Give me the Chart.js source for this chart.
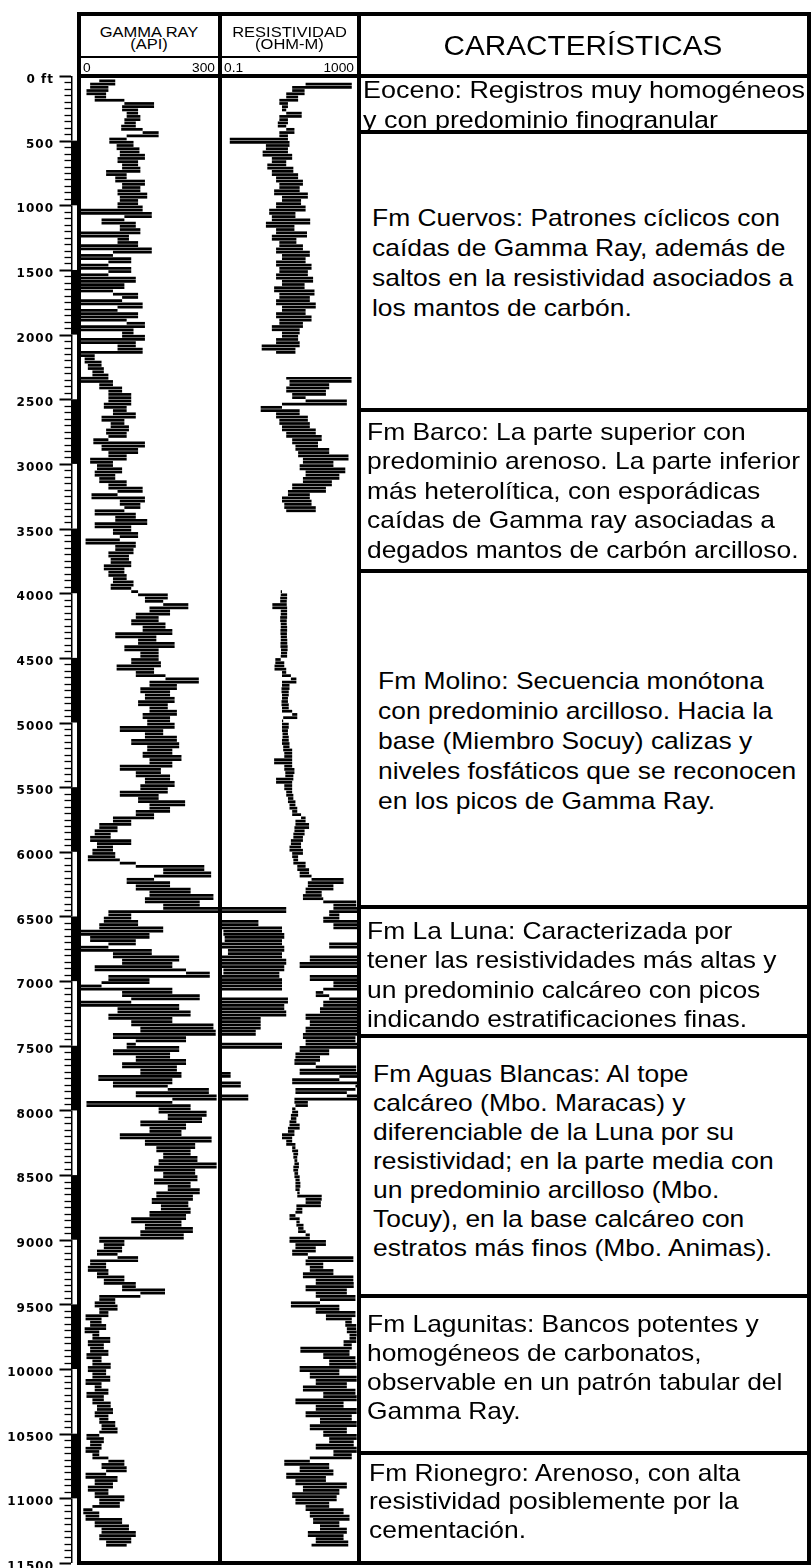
<!DOCTYPE html>
<html lang="es">
<head>
<meta charset="utf-8">
<title>Registros GR y Resistividad</title>
<script src="https://cdn.jsdelivr.net/npm/chart.js@4.4.1/dist/chart.umd.min.js"></script>
<style>
  html, body { margin: 0; padding: 0; background: #fff; }
  #sheet { position: relative; width: 811px; height: 1568px; overflow: hidden; background: #fff;
           font-family: "Liberation Sans", Arial, sans-serif; color: #000; }
  .ln { position: absolute; background: #000; }
  .cv { position: absolute; display: block; }
  .c { position: absolute; white-space: nowrap; text-align: center; transform: scaleX(1.1); transform-origin: 50% 0; }
  .l { position: absolute; white-space: nowrap; transform: scaleX(1.1); transform-origin: 0 0; }
  .r { position: absolute; white-space: nowrap; text-align: right; transform: scaleX(1.1); transform-origin: 100% 0; }
  .box { position: absolute; white-space: nowrap; font-size: 24px; transform: scaleX(1.1); transform-origin: 0 0; }
</style>
</head>
<body>
<div id="sheet">
  <canvas id="gammaTrack" class="cv" width="218" height="1502" style="left:0;top:66px"></canvas>
  <canvas id="resTrack" class="cv" width="135" height="1502" style="left:222px;top:66px"></canvas>

  <!-- frame -->
  <div class="ln" style="left:77px;top:12px;width:734px;height:3.5px"></div>
  <div class="ln" style="left:77px;top:74px;width:734px;height:4px"></div>
  <div class="ln" style="left:81px;top:56px;width:276px;height:1.5px"></div>
  <div class="ln" style="left:77px;top:1561px;width:734px;height:4px"></div>
  <div class="ln" style="left:77px;top:12px;width:4px;height:1553px"></div>
  <div class="ln" style="left:218px;top:12px;width:4px;height:1553px"></div>
  <div class="ln" style="left:357px;top:12px;width:4px;height:1553px"></div>
  <div class="ln" style="left:807px;top:12px;width:4px;height:1553px"></div>
  <!-- formation box separators -->
  <div class="ln" style="left:357px;top:130px;width:454px;height:4px"></div>
  <div class="ln" style="left:357px;top:408px;width:454px;height:4px"></div>
  <div class="ln" style="left:357px;top:569px;width:454px;height:4px"></div>
  <div class="ln" style="left:357px;top:905px;width:454px;height:4px"></div>
  <div class="ln" style="left:357px;top:1034px;width:454px;height:4px"></div>
  <div class="ln" style="left:357px;top:1294px;width:454px;height:4px"></div>
  <div class="ln" style="left:357px;top:1451px;width:454px;height:4px"></div>

  <!-- track headers -->
  <div class="c" style="left:89px;width:120px;top:23.5px;font-size:15px;line-height:15px">GAMMA RAY</div>
  <div class="c" style="left:89px;width:120px;top:36px;font-size:15px;line-height:15px">(API)</div>
  <div class="c" style="left:224px;width:131px;top:23.5px;font-size:15px;line-height:15px">RESISTIVIDAD</div>
  <div class="c" style="left:224px;width:131px;top:36px;font-size:15px;line-height:15px">(OHM-M)</div>
  <div class="l" style="left:83px;top:61.5px;font-size:12.5px;line-height:12.5px">0</div>
  <div class="r" style="left:160px;width:55px;top:61.5px;font-size:12.5px;line-height:12.5px">300</div>
  <div class="l" style="left:224px;top:61.5px;font-size:12.5px;line-height:12.5px">0.1</div>
  <div class="r" style="left:300px;width:54px;top:61.5px;font-size:12.5px;line-height:12.5px">1000</div>
  <div class="c" style="left:383px;width:400px;top:32.5px;font-size:27px;line-height:27px">CARACTERÍSTICAS</div>

  <!-- formation descriptions -->
  <div class="box" style="left:363px;top:74.5px;line-height:30.5px;font-size:24.5px">Eoceno: Registros muy homogéneos<br>y con predominio finogranular</div>
  <div class="box" style="left:372px;top:202.5px;line-height:30px">Fm Cuervos: Patrones cíclicos con<br>caídas de Gamma Ray, además de<br>saltos en la resistividad asociados a<br>los mantos de carbón.</div>
  <div class="box" style="left:367px;top:416.5px;line-height:29.5px">Fm Barco: La parte superior con<br>predominio arenoso. La parte inferior<br>más heterolítica, con esporádicas<br>caídas de Gamma ray asociadas a<br>degados mantos de carbón arcilloso.</div>
  <div class="box" style="left:378px;top:665.5px;line-height:30px">Fm Molino: Secuencia monótona<br>con predominio arcilloso. Hacia la<br>base (Miembro Socuy) calizas y<br>niveles fosfáticos que se reconocen<br>en los picos de Gamma Ray.</div>
  <div class="box" style="left:367px;top:915.5px;line-height:29.5px">Fm La Luna: Caracterizada por<br>tener las resistividades más altas y<br>un predominio calcáreo con picos<br>indicando estratificaciones finas.</div>
  <div class="box" style="left:373px;top:1058.5px;line-height:29px">Fm Aguas Blancas: Al tope<br>calcáreo (Mbo. Maracas) y<br>diferenciable de la Luna por su<br>resistividad; en la parte media con<br>un predominio arcilloso (Mbo.<br>Tocuy), en la base calcáreo con<br>estratos más finos (Mbo. Animas).</div>
  <div class="box" style="left:367px;top:1308.5px;line-height:29.3px">Fm Lagunitas: Bancos potentes y<br>homogéneos de carbonatos,<br>observable en un patrón tabular del<br>Gamma Ray.</div>
  <div class="box" style="left:369px;top:1458.5px;line-height:28.5px">Fm Rionegro: Arenoso, con alta<br>resistividad posiblemente por la<br>cementación.</div>
</div>

<script>
// Sampling interval of both curves, in feet
const DEPTH_STEP_FT = 25;
const DEPTH_MAX_FT = 11500;

// Labelled depth ticks
const DEPTH_TICKS = [0, 500, 1000, 1500, 2000, 2500, 3000, 3500, 4000, 4500, 5000, 5500,
  6000, 6500, 7000, 7500, 8000, 8500, 9000, 9500, 10000, 10500, 11000, 11500];

// Gamma Ray (API), one row per 500 ft, samples every 25 ft
const GAMMA_API = [
  null, 40, 75, 20, 60, 12, 55, 30, 95, 160, 90, 125, 100, 130, 95, 120, 88, 135, 170, 100,   // 0
  62, 115, 78, 128, 85, 140, 80, 125, 90, 130, 55, 100, 75, 140, 90, 130, 80, 145, 85, 125,   // 500
  80, 135, 0, 155, 95, 45, 120, 85, 130, 0, 105, 80, 125, 0, 155, 70, 0, 110, 60, 0,          // 1000
  110, 60, 0, 120, 0, 95, 0, 70, 125, 90, 0, 135, 80, 0, 125, 0, 100, 140, 0, 115,            // 1500
  90, 140, 0, 120, 80, 135, 0, 30, 8, 45, 15, 50, 25, 60, 0, 70, 40, 90, 60, 110,             // 2000
  60, 110, 50, 100, 70, 120, 45, 95, 65, 105, 55, 100, 60, 27, 140, 45, 125, 60, 100, 20,     // 2500
  70, 35, 90, 30, 75, 40, 100, 60, 135, 80, 23, 140, 85, 130, 95, 30, 120, 75, 145, 30,       // 3000
  110, 70, 125, 85, 10, 120, 75, 115, 60, 105, 65, 110, 50, 95, 60, 100, 70, 115, 65, 110,    // 3500
  125, 190, 140, 180, 235, 150, 195, 120, 170, 110, 185, 135, 200, 75, 165, 125, 205, 95, 170, 130, // 4000
  170, 110, 175, 78, 160, 120, 185, 258, 150, 210, 130, 195, 140, 205, 125, 190, 150, 210, 135, 195, // 4500
  145, 205, 85, 180, 140, 210, 110, 215, 145, 200, 135, 220, 150, 200, 85, 175, 120, 195, 140, 205,  // 5000
  130, 190, 85, 170, 125, 228, 150, 195, 120, 160, 70, 110, 40, 80, 30, 65, 20, 110, 35, 70,  // 5500
  25, 75, 15, 85, 120, 270, 180, 285, 160, 100, 195, 120, 240, 150, 290, 140, 260, 180, 300, 60, // 6000
  110, 50, 125, 40, 180, 0, 150, 20, 120, 60, 0, 155, 70, 215, 90, 200, 30, 230, 282, 60,     // 6500
  150, 45, 0, 200, 90, 260, 110, 0, 215, 80, 240, 60, 200, 110, 290, 130, 295, 70, 230, 120,  // 7000
  100, 215, 70, 195, 120, 230, 90, 210, 130, 220, 38, 200, 70, 190, 280, 120, 297, 200, 12, 240, // 7500
  170, 275, 190, 265, 130, 230, 150, 220, 85, 286, 140, 250, 165, 240, 180, 255, 170, 297, 160, 250, // 8000
  180, 255, 160, 240, 190, 260, 165, 245, 155, 235, 175, 240, 150, 230, 110, 220, 140, 245, 130, 225, // 8500
  40, 95, 50, 90, 35, 80, 125, 20, 55, 15, 60, 35, 95, 50, 120, 90, 184, 130, 40, 75,         // 9000
  30, 80, 40, 60, 10, 45, 20, 55, 8, 40, 25, 64, 15, 50, 20, 60, 12, 45, 25, 65,              // 9500
  15, 55, 25, 64, 10, 45, 30, 60, 12, 50, 25, 65, 35, 70, 30, 60, 40, 75, 45, 80,             // 10000
  40, 12, 50, 20, 45, 10, 40, 25, 60, 95, 45, 100, 55, 10, 80, 30, 70, 15, 60, 30,            // 10500
  95, 40, 85, 25, 5, 40, 10, 90, 30, 105, 45, 120, 40, 110, 55, 100, null, null, null, null,  // 11000
  null                                                                                         // 11500
];

// Resistivity (ohm-m), same sampling; values above the track maximum wrap onto the backup scale
const RES_OHMM = [
  null, null, 30, 700, 12, 28, 8, 18, 5, 9, 6, 8, 23, 5, 9, 4.5, 8, 14, 5, 9,                  // 0
  0.17, 10, 2, 9, 1.6, 12, 3, 8, 2.2, 13, 3, 18, 4, 25, 5, 20, 3.5, 35, 6, 22,                 // 500
  4, 30, 2.5, 15, 3, 41, 2, 14, 4, 33, 3, 16, 5, 25, 4, 40, 6, 30, 4, 45,                      // 1000
  5, 35, 4, 50, 6, 28, 3.5, 55, 5, 40, 4, 60, 6, 30, 4, 45, 5, 25, 3, 20,                      // 1500
  6, 18, 4, 20, 1.5, 15, 4, null, null, null, null, null, null, 8, 690, 10, 150, 8, 120, 12,   // 2000
  30, 500, 6, 1.4, 20, 4, 35, 5, 40, 6, 60, 8, 90, 12, 70, 15, 150, 18, 560, 25,               // 2500
  200, 20, 450, 30, 300, 25, 180, 12, 120, 9, 40, 6, 45, 7, 60, 8, null, null, null, null,     // 3000
  null, null, null, null, null, null, null, null, null, null, null, null, null, null, null, null, null, null, null, 6, // 3500
  5.5, 8.5, 5.3, 8.3, 3.1, 8.5, 5.5, 8.5, 5.3, 8.3, 5.5, 8.5, 5.4, 8.4, 5.5, 8.6, 5.4, 8.8, 5.6, 8.5, // 4000
  5.5, 3.8, 7, 3.6, 8, 6, 11, 16, 6, 10, 5.8, 9.5, 6, 9, 5.8, 9.5, 6, 12, 17, 6.5,             // 4500
  6, 9.5, 6, 9, 6.2, 9.5, 6, 10, 6.5, 12, 7, 12, 3.5, 12, 7, 14, 7.5, 13, 4, 12,               // 5000
  7, 12, 8, 13, 9, 15, 10, 17, 12, 22, 30, 15, 38, 14, 28, 13, 25, 11, 22, 10,                 // 5500
  25, 12, 18, 13, 30, 17, 38, 20, 45, 400, 35, 200, 30, 90, 25, 100, 950, 200, 80000, 150,     // 6000
  300, 100, 12000, 200, 60000, 1100, 70000, 1200, 60000, 150, 70000, 1500, 60000, 40, 80000, 20, 70000, 1100, 50000, 40, // 6500
  60000, 200, 60000, 100, 60, 150, 90000, 100, 70000, 80, 80000, 30, 14000, 40, 14000, 30, 10000, 25, 900, 30,          // 7000
  60000, 20, 150, 15, 80, 14, 60, 950, 20, 1800, 300, 12, 3600, 900, 15, 500, 6000, 14, 35, 15, // 7500
  12, 18, 11, 16, 10, 20, 9, 14, 6, 12, 8, 15, 12, 18, 13, 17, 14, 19, 13, 18,                 // 8000
  14, 20, 15, 21, 15, 20, 17, 90, 30, 85, 16, 24, 15, 10, 20, 16, 26, 18, 30, 40,              // 8500
  10, 120, 15, 60, 12, 35, 780, 30, 100, 40, 200, 25, 780, 60, 800, 30, 500, 60, 900, 80,      // 9000
  11, 300, 60, 900, 120, 700, 450, 950, 500, 980, 600, 950, 400, 700, 21, 600, 100, 900, 150, 980, // 9500
  20, 300, 40, 980, 60, 500, 25, 900, 100, 980, 15, 400, 60, 980, 30, 700, 80, 980, 40, 500,   // 10000
  100, 980, 150, 800, 60, 980, 200, 700, 40, 7, 150, 20, 200, 8, 120, 15, 500, 25, 300, 12,    // 10500
  250, 15, 150, 30, 400, 40, 600, 50, 300, 80, 500, 35, 400, 60, 550, 45, null, null, null, null, // 11000
  null                                                                                          // 11500
];

// The resistivity track spans four decades; the backup trace shifts wrapped values down by that span
const RES_TRACK_MAX = 1000;
const WRAP_FACTOR = 1e4;
const OFF_TRACK = 1e-3;

const depthFt = GAMMA_API.map((_, i) => i * DEPTH_STEP_FT);

// Each 25 ft interval is drawn as a horizontal band spanning the readings at its top and base
function intervalBands(values) {
  const out = [];
  for (let i = 0; i < values.length - 1; i++) {
    const a = values[i], b = values[i + 1];
    out.push({ y: depthFt[i] + DEPTH_STEP_FT / 2, x: (a == null || b == null) ? null : [a, b] });
  }
  return out;
}

const resBackup = RES_OHMM.map(v => (v == null ? null : (v > RES_TRACK_MAX ? v / WRAP_FACTOR : OFF_TRACK)));

const bandStyle = {
  backgroundColor: '#000', borderWidth: 0, grouped: false,
  categoryPercentage: 1, barPercentage: 0.85, clip: 0
};

const depthScale = { type: 'linear', reverse: true, min: 0, max: DEPTH_MAX_FT, offset: false };

const baseOptions = {
  responsive: false, animation: false, events: [], indexAxis: 'y',
  layout: { padding: { top: 10, bottom: 5, left: 0, right: 0 } },
  plugins: { legend: { display: false }, tooltip: { enabled: false } }
};

// Depth ruler: alternating 500 ft bar with 50 ft minor ticks, left of the gamma track
const depthRuler = {
  id: 'depthRuler',
  beforeDraw(chart) { chart.ctx.letterSpacing = '1px'; },
  afterDraw(chart) {
    const ys = chart.scales.y, ctx = chart.ctx;
    ctx.save();
    ctx.letterSpacing = '0px';
    ctx.fillStyle = '#000';
    for (let d = 0; d < DEPTH_MAX_FT; d += 500) {
      const y0 = ys.getPixelForValue(d), y1 = ys.getPixelForValue(d + 500);
      if ((d / 500) % 2 === 1) ctx.fillRect(71, y0, 6, y1 - y0);
      else ctx.fillRect(71, y0, 1.5, y1 - y0);
    }
    ctx.strokeStyle = '#000';
    for (let d = 0; d <= DEPTH_MAX_FT; d += 50) {
      const y = Math.round(ys.getPixelForValue(d)) + 0.5;
      const major = d % 500 === 0;
      ctx.lineWidth = major ? 2 : 1.3;
      ctx.beginPath();
      ctx.moveTo(major ? 59.5 : 64.5, y);
      ctx.lineTo(71, y);
      ctx.stroke();
    }
    ctx.restore();
  }
};

new Chart(document.getElementById('gammaTrack'), {
  type: 'bar',
  data: { datasets: [{ ...bandStyle, data: intervalBands(GAMMA_API) }] },
  options: {
    ...baseOptions,
    scales: {
      x: { type: 'linear', min: 0, max: 300, display: false },
      y: {
        ...depthScale, position: 'left',
        afterFit(s) { s.width = 81; s.paddingTop = 0; s.paddingBottom = 0; },
        afterBuildTicks(s) { s.ticks = DEPTH_TICKS.map(v => ({ value: v })); },
        border: { display: false },
        grid: { display: false, drawTicks: false },
        ticks: {
          autoSkip: false, padding: 27, labelOffset: 4, color: '#000',
          font: { family: 'DejaVu Sans', weight: 'bold', size: 12 },
          callback: v => (v === 0 ? '0 ft' : String(v))
        }
      }
    }
  },
  plugins: [depthRuler]
});

new Chart(document.getElementById('resTrack'), {
  type: 'bar',
  data: {
    datasets: [
      { ...bandStyle, data: intervalBands(RES_OHMM) },
      { ...bandStyle, data: intervalBands(resBackup) }
    ]
  },
  options: {
    ...baseOptions,
    scales: {
      x: { type: 'logarithmic', min: 0.1, max: RES_TRACK_MAX, display: false },
      y: { ...depthScale, display: false }
    }
  }
});
</script>
</body>
</html>
